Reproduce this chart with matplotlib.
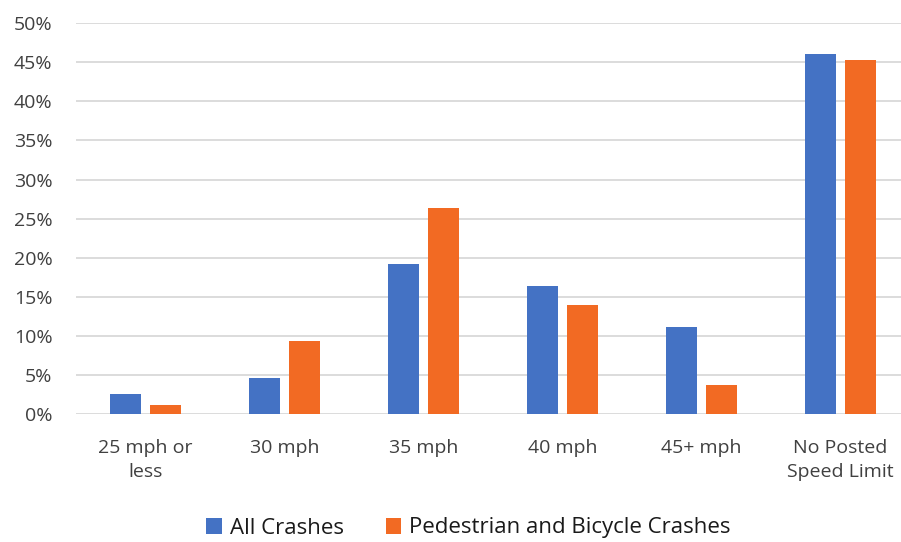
import matplotlib.pyplot as plt
import numpy as np
from matplotlib.ticker import PercentFormatter

categories = ["25 mph or\nless", "30 mph", "35 mph", "40 mph", "45+ mph", "No Posted\nSpeed Limit"]
all_crashes = [2.6, 4.6, 19.2, 16.4, 11.2, 46.0]
ped_bike = [1.15, 9.4, 26.4, 14.0, 3.8, 45.3]
series_names = ["All Crashes", "Pedestrian and Bicycle Crashes"]

plt.rcParams['font.family'] = ['Open Sans', 'DejaVu Sans']

fig = plt.figure(figsize=(9.01, 5.42), dpi=100)
# plot area runs slightly past the right edge, like the cropped original
ax = fig.add_axes([76 / 901, 1 - 414.3 / 542, 834 / 901, 391.3 / 542])

x = np.arange(len(categories))
w = 0.225
off = 0.142
ax.bar(x - off, all_crashes, w, color="#4472C4", label=series_names[0], zorder=3)
ax.bar(x + off, ped_bike, w, color="#F26A23", label=series_names[1], zorder=3)

ax.set_xlim(-0.5, len(categories) - 0.5)
ax.set_ylim(0, 50)
ax.set_yticks(np.arange(0, 51, 5))
ax.yaxis.set_major_formatter(PercentFormatter(decimals=0))
ax.grid(axis="y", color="#D9D9D9", linewidth=1.3, zorder=0)
for s in ax.spines.values():
    s.set_visible(False)
ax.tick_params(length=0, labelsize=14, colors="#404040")
ax.tick_params(axis="y", pad=17)
ax.set_xticks(x)
ax.set_xticklabels(categories, linespacing=1.4)
ax.tick_params(axis="x", pad=18)

fig.legend(loc="center", bbox_to_anchor=(0.52, 1 - 528 / 542), ncol=2, frameon=False,
           fontsize=16, handlelength=0.7, handleheight=0.7, handletextpad=0.35,
           columnspacing=1.9, labelcolor="#1a1a1a")

fig.savefig("out.png", dpi=100)
